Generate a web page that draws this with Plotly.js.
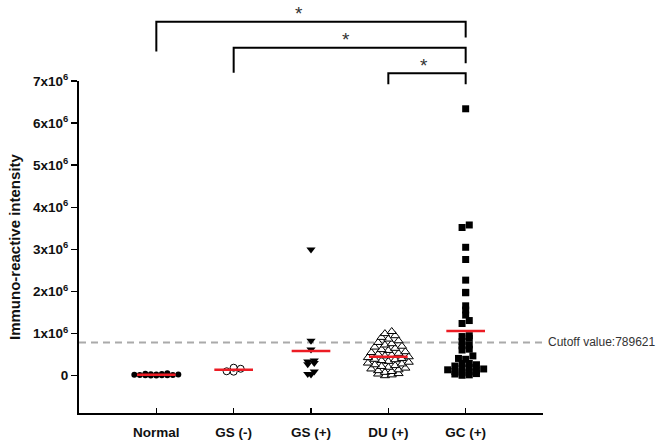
<!DOCTYPE html>
<html>
<head>
<meta charset="utf-8">
<script src="https://cdn.plot.ly/plotly-3.0.1.min.js"></script>
<style>
  html, body { margin: 0; padding: 0; background: #fff; }
  #chart { width: 666px; height: 444px; }
</style>
</head>
<body>
<div id="chart"></div>
<script>
// Group labels along the x axis
const groups = ['Normal', 'GS (-)', 'GS (+)', 'DU (+)', 'GC (+)'];

// Immuno-reactive intensity for each subject, by group
const normalVals = [2000, 8000, 15000, 30000, 12000, 45000, 22000, 5000, 60000, 18000, 35000, 10000, 26000, 40000];
const gsNegVals = [95000, 190000, 165000, 105000];
const gsPosVals = [3000000, 830000, 620000, 360000, 340000, 270000, 300000, 100000, 40000, 30000];
const duVals = [0, 20000, 40000, 50000,
  80000, 100000, 120000, 140000, 160000, 180000,
  200000, 220000, 240000, 260000, 280000, 300000, 320000,
  340000, 360000, 380000, 390000, 410000, 430000, 450000,
  470000, 490000, 510000, 530000, 550000, 570000,
  600000, 620000, 650000, 680000, 700000,
  730000, 760000, 790000, 830000,
  870000, 910000, 950000,
  1000000, 1050000];
const gcVals = [6340000, 3580000, 3520000, 3050000, 2760000, 2270000, 1980000, 1970000,
  1660000, 1560000, 1440000, 1310000, 1240000,
  930000, 950000, 890000, 810000, 730000, 710000, 610000, 630000, 470000, 390000,
  410000, 290000, 290000,
  260000, 230000, 200000, 180000, 160000, 140000, 120000, 100000, 90000, 70000,
  50000, 40000, 20000, 10000];

// Diagnostic cutoff
const cutoff = 789621;

// Y-axis ticks
const yTickVals = [0, 1e6, 2e6, 3e6, 4e6, 5e6, 6e6, 7e6];
const yTickText = ['0', '1x10<sup>6</sup>', '2x10<sup>6</sup>', '3x10<sup>6</sup>', '4x10<sup>6</sup>',
  '5x10<sup>6</sup>', '6x10<sup>6</sup>', '7x10<sup>6</sup>'];

// Pairwise significance comparisons (group indices) and their marks
const comparisons = [[0, 4], [1, 4], [3, 4]];
const sigLabels = ['*', '*', '*'];

// ---- geometry & styling ----
const W = 666, H = 444;
const margin = { l: 79, r: 123, t: 81, b: 31 };
const xRange = [-1, 5];
const yRange = [-886000, 7000000];
const plotW = W - margin.l - margin.r;
const plotH = H - margin.t - margin.b;
const pxPerX = plotW / (xRange[1] - xRange[0]);
const pxPerY = plotH / (yRange[1] - yRange[0]);

// rowH / step: scatter-dot layout in pixels (row height, spacing within a row)
const groupStyles = [
  { values: normalVals, marker: { symbol: 'circle', size: 6, color: '#000', line: { width: 0 } }, rowH: 2.2, step: 5.5 },
  { values: gsNegVals, marker: { symbol: 'circle', size: 7, color: '#fff', line: { color: '#000', width: 1 } }, rowH: 5, step: 7 },
  { values: gsPosVals, marker: { symbol: 'triangle-down', size: 8, color: '#000', line: { width: 0 } }, rowH: 3, step: 6.5 },
  { values: duVals, marker: { symbol: 'triangle-up', size: 8, color: '#fff', line: { color: '#000', width: 1 } }, rowH: 5.5, step: 6.8 },
  { values: gcVals, marker: { symbol: 'square', size: 7, color: '#000', line: { width: 0 } }, rowH: 4.5, step: 7.2 }
];

// Bracket heights (paper units): [left foot, bar, right foot]
const bracketY = [[1.089, 1.1786, 1.1313], [1.025, 1.1003, 1.0533], [0.99, 1.0232, 0.99]];
const starY = [1.2108, 1.1304, 1.0533];
const starShift = [-12, -4, -3];

// Scatter-dot offsets: values falling in the same pixel row are spread side by side
function dotOffsets(vals, rowH, step) {
  const rows = {};
  vals.forEach((v, i) => {
    const r = Math.round(v * pxPerY / rowH);
    (rows[r] = rows[r] || []).push(i);
  });
  const out = new Array(vals.length);
  Object.keys(rows).forEach(r => {
    const idx = rows[r].sort((a, b) => vals[a] - vals[b]);
    const n = idx.length;
    const slots = [];
    for (let k = 0; k < n; k++) slots.push((k - (n - 1) / 2) * step);
    slots.sort((a, b) => Math.abs(a) - Math.abs(b) || a - b);
    idx.forEach((i, k) => { out[i] = slots[k] / pxPerX; });
  });
  return out;
}

const mean = a => a.reduce((s, v) => s + v, 0) / a.length;

const traces = [];
groupStyles.forEach((g, gi) => {
  const offs = dotOffsets(g.values, g.rowH, g.step);
  traces.push({
    type: 'scatter', mode: 'markers',
    x: offs.map(o => gi + o), y: g.values,
    marker: g.marker, cliponaxis: false, hoverinfo: 'y'
  });
});
// Group means as short red bars
groupStyles.forEach((g, gi) => {
  const m = mean(g.values);
  traces.push({
    type: 'scatter', mode: 'lines',
    x: [gi - 0.25, gi + 0.25], y: [m, m],
    line: { color: '#ec1c24', width: 2.5 }, hoverinfo: 'skip'
  });
});

const shapes = [{
  type: 'line', xref: 'paper', yref: 'y', x0: 0, x1: 1, y0: cutoff, y1: cutoff,
  line: { color: '#aaaaaa', width: 2, dash: '7px,5px' }, layer: 'below'
}];
const annotations = [];
comparisons.forEach(([a, b], k) => {
  const [yl, yb, yr] = bracketY[k];
  shapes.push({
    type: 'path', xref: 'x', yref: 'paper',
    path: `M ${a},${yl} L ${a},${yb} L ${b},${yb} L ${b},${yr}`,
    line: { color: '#000', width: 2 }, layer: 'above'
  });
  annotations.push({
    text: sigLabels[k], xref: 'x', yref: 'paper', x: (a + b) / 2, y: starY[k],
    xanchor: 'center', yanchor: 'middle',
    xshift: starShift[k], yshift: -2, showarrow: false,
    font: { family: 'Arial, Liberation Sans, sans-serif', size: 19, color: '#333' }
  });
});
annotations.push({
  text: 'Cutoff value:' + cutoff, xref: 'paper', yref: 'y', x: 1, y: cutoff,
  xanchor: 'left', yanchor: 'middle', xshift: 3, showarrow: false,
  font: { family: 'Arial, Liberation Sans, sans-serif', size: 12, color: '#333' }
});
annotations.push({
  text: 'Immuno-reactive intensity', xref: 'paper', yref: 'paper', x: 0, y: 0.5,
  xanchor: 'center', yanchor: 'middle',
  xshift: -65, textangle: -90, showarrow: false,
  font: { family: 'Arial, Liberation Sans, sans-serif', size: 15, color: '#111', weight: 'bold' }
});

const tickFont = { family: 'Arial, Liberation Sans, sans-serif', size: 13.5, color: '#111', weight: 'bold' };

const layout = {
  width: W, height: H, margin: margin,
  paper_bgcolor: '#fff', plot_bgcolor: '#fff',
  showlegend: false,
  xaxis: {
    range: xRange, tickmode: 'array', tickvals: groups.map((g, i) => i), ticktext: groups,
    ticks: 'inside', ticklen: 5, tickwidth: 1.5, tickcolor: '#000',
    showline: true, linewidth: 2, linecolor: '#000', mirror: false,
    showgrid: false, zeroline: false, tickfont: tickFont,
    ticklabelstandoff: 6, fixedrange: true
  },
  yaxis: {
    range: yRange, tickmode: 'array', tickvals: yTickVals, ticktext: yTickText,
    ticks: 'outside', ticklen: 6, tickwidth: 1.5, tickcolor: '#000',
    showline: true, linewidth: 2, linecolor: '#000',
    showgrid: false, zeroline: false, tickfont: tickFont, fixedrange: true
  },
  shapes: shapes,
  annotations: annotations
};

Plotly.newPlot('chart', traces, layout, { displayModeBar: false, staticPlot: true });
</script>
</body>
</html>
